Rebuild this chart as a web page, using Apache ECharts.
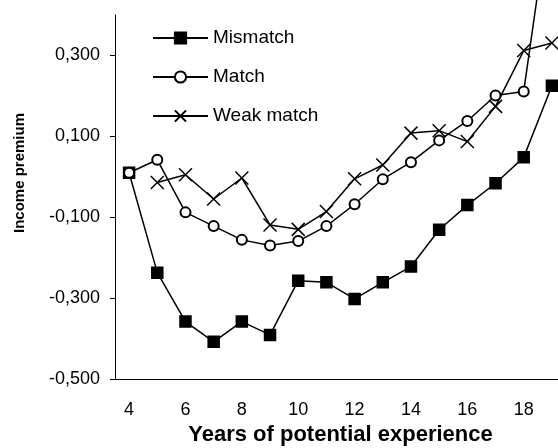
<!DOCTYPE html>
<html>
<head>
<meta charset="utf-8">
<script src="https://cdn.jsdelivr.net/npm/echarts@6/dist/echarts.min.js"></script>
<style>
  html, body { margin: 0; padding: 0; background: #fff; }
  #chart { width: 558px; height: 448px; }
</style>
</head>
<body>
<div id="chart"></div>
<script>
/* Income premium by years of potential experience */
var years = ['4', '5', '6', '7', '8', '9', '10', '11', '12', '13', '14', '15', '16', '17', '18', '19'];
var mismatch = [0.01, -0.237, -0.358, -0.408, -0.358, -0.391, -0.257, -0.261, -0.302, -0.261, -0.222, -0.131, -0.070, -0.016, 0.048, 0.225];
var match = [0.01, 0.042, -0.088, -0.122, -0.156, -0.170, -0.159, -0.122, -0.068, -0.006, 0.036, 0.090, 0.138, 0.201, 0.211, 0.70];
var weakMatch = [null, -0.014, 0.005, -0.055, -0.003, -0.119, -0.130, -0.086, -0.005, 0.029, 0.108, 0.114, 0.087, 0.174, 0.312, 0.331];
var yTicks = [-0.5, -0.3, -0.1, 0.1, 0.3];

var font = 'Arial, "Liberation Sans", sans-serif';
var chart = echarts.init(document.getElementById('chart'));

function lineSeries(name, data, symbol, size) {
	return {
		name: name,
		type: 'line',
		data: data,
		symbol: symbol,
		symbolSize: size,
		showAllSymbol: true,
		connectNulls: false,
		animation: false,
		lineStyle: { color: '#000', width: 1.5 },
		itemStyle: { color: '#000', borderColor: '#000', borderWidth: 1.5 }
	};
}

var option = {
	animation: false,
	backgroundColor: '#fff',
	textStyle: { fontFamily: font },
	grid: { left: 115, top: 15, right: -8, bottom: 69, outerBoundsMode: 'none', containLabel: false },
	legend: {
		orient: 'vertical',
		left: 152,
		top: 28,
		padding: 0,
		itemWidth: 55,
		itemHeight: 14,
		itemGap: 19,
		textStyle: { fontFamily: font, fontSize: 19, lineHeight: 20, color: '#000' },
		data: ['Mismatch', 'Match', 'Weak match']
	},
	xAxis: {
		type: 'category',
		data: years,
		boundaryGap: true,
		name: 'Years of potential experience',
		nameLocation: 'middle',
		nameGap: 41,
		nameTextStyle: { fontFamily: font, fontSize: 22, fontWeight: 'bold', color: '#000' },
		axisLine: { onZero: false, lineStyle: { color: '#000', width: 1 } },
		axisTick: { interval: 0, length: 5, lineStyle: { color: '#000' } },
		axisLabel: { interval: 1, margin: 22, fontSize: 18, color: '#000', fontFamily: font },
		splitLine: { show: false }
	},
	yAxis: {
		type: 'value',
		min: -0.5,
		max: 0.4,
		axisLine: { show: true, lineStyle: { color: '#000', width: 1 } },
		axisTick: { show: true, length: 5, customValues: yTicks, lineStyle: { color: '#000' } },
		axisLabel: {
			customValues: yTicks,
			margin: 15,
			fontSize: 18,
			color: '#000',
			fontFamily: font,
			formatter: function(v) { return v.toFixed(3).replace('.', ','); }
		},
		splitLine: { show: false }
	},
	graphic: [{
		type: 'text',
		x: 20,
		y: 173,
		rotation: Math.PI / 2,
		style: {
			text: 'Income premium',
			font: 'bold 15px ' + font,
			fill: '#000',
			align: 'center',
			verticalAlign: 'middle'
		}
	}],
	series: [
		lineSeries('Mismatch', mismatch, 'rect', 11),
		Object.assign(lineSeries('Match', match, 'emptyCircle', 10), { clip: false }),
		lineSeries('Weak match', weakMatch, 'path://M0,0L10,10M10,0L0,10', 13)
	]
};
chart.setOption(option);
</script>
</body>
</html>
